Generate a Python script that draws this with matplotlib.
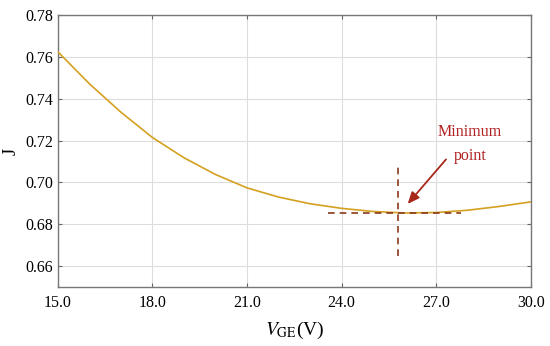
import numpy as np
import matplotlib
matplotlib.use('Agg')
import matplotlib.pyplot as plt

plt.rcParams['font.family'] = ['Liberation Serif', 'DejaVu Serif']
plt.rcParams['mathtext.fontset'] = 'stix'

# V_GE values and objective J
vge = [15, 16, 17, 18, 19, 20, 21, 22, 23, 24, 25, 26, 27, 28, 29, 30]
J = [0.7625, 0.7472, 0.7336, 0.7215, 0.7118, 0.7038, 0.6974, 0.6930,
     0.6898, 0.6876, 0.6861, 0.6854, 0.6856, 0.6867, 0.6885, 0.6907]

# minimum point marker
min_x = 25.8
min_y = 0.6853
h_span = [23.58, 27.8]
v_span = [0.6646, 0.7074]

xticks = [15.0, 18.0, 21.0, 24.0, 27.0, 30.0]
yticks = [0.66, 0.68, 0.70, 0.72, 0.74, 0.76, 0.78]

fig = plt.figure(figsize=(5.5, 3.46), dpi=100)
ax = fig.add_axes([0.105, 0.1705, 0.86, 0.786])

ax.plot(vge, J, color='#D4A020', lw=1.2, zorder=3)

ax.plot(h_span, [min_y, min_y], ls=(0, (4, 3)), color='#8B3A1A', lw=1.2, zorder=4)
ax.plot([min_x, min_x], v_span, ls=(0, (4, 3)), color='#8B3A1A', lw=1.2, zorder=4)

ax.annotate('', xy=(26.04, 0.6887), xytext=(27.37, 0.712),
            arrowprops=dict(arrowstyle='-|>,head_length=0.7,head_width=0.3',
                            color='#A8281C', lw=1.3))
ax.text(28.07, 0.7239, 'Minimum', color='#B22222', fontsize=11.5,
        ha='center', va='center')
ax.text(28.07, 0.7125, 'point', color='#B22222', fontsize=11.5,
        ha='center', va='center')

ax.set_xlim(15, 30)
ax.set_ylim(0.65, 0.78)
ax.set_xticks(xticks)
ax.set_xticklabels(['%.1f' % t for t in xticks])
ax.set_yticks(yticks)
ax.set_yticklabels(['%.2f' % t for t in yticks])
ax.tick_params(direction='in', top=True, right=True, labelsize=11.5,
               color='#666666', length=3)
ax.tick_params(axis='x', pad=6)
ax.grid(True, color='#DDDDDD', lw=0.8)
ax.set_axisbelow(True)
for s in ax.spines.values():
    s.set_color('#777777')
    s.set_linewidth(1.0)

ax.set_xlabel(r'$V_{\mathrm{GE}}$(V)', fontsize=14, labelpad=6)
ax.set_ylabel('J', fontsize=13)

fig.savefig('out.png', dpi=100)
